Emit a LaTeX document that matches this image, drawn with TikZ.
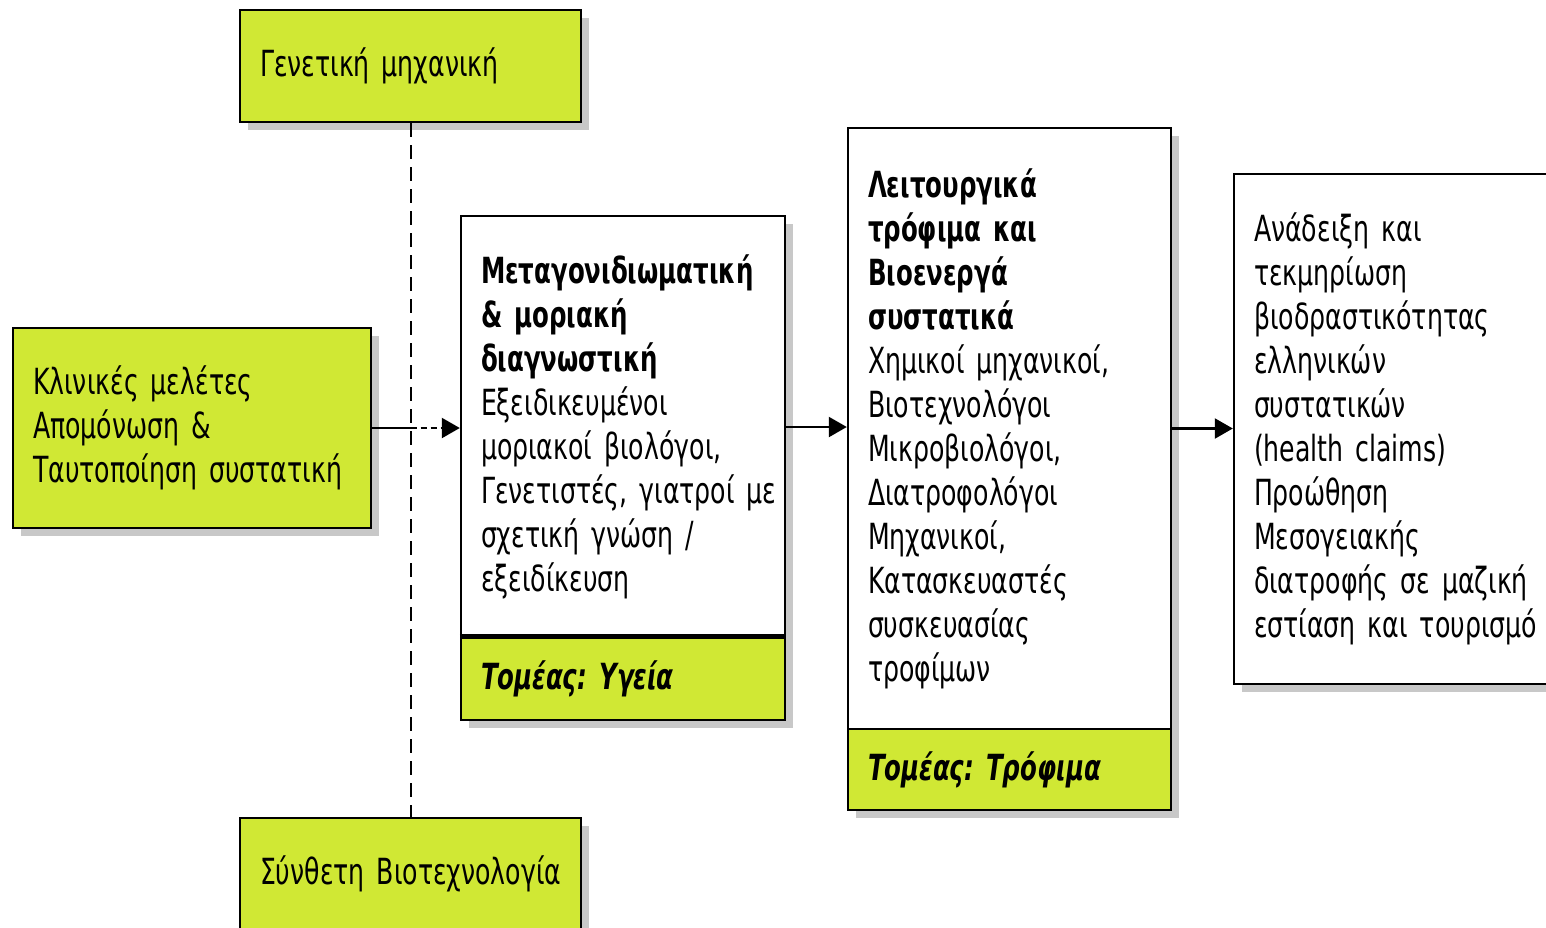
\documentclass[tikz,border=0pt]{standalone}
\usepackage{fontspec}
\setmainfont{DejaVu Sans}[FakeStretch=0.7,
  BoldFeatures={FakeStretch=0.68},BoldItalicFeatures={FakeStretch=0.68}]
\usetikzlibrary{arrows.meta,shadows}
\definecolor{lime}{RGB}{208,232,52}
\definecolor{shade}{RGB}{200,200,200}
\frenchspacing
\begin{document}
\begin{tikzpicture}[x=1pt,y=-1pt,
  box/.style={draw=black,line width=2.4pt,drop shadow={shadow xshift=8pt,shadow yshift=-8pt,opacity=1,fill=shade},
    inner xsep=20pt,inner ysep=0pt,align=left,font=\fontsize{36}{44}\selectfont},
  green/.style={box,fill=lime},
  white/.style={box,fill=white},
  link/.style={line width=2.2pt},
  tip/.style={-{Triangle[length=18pt,width=20pt]}}]
\useasboundingbox (0,0) rectangle (1546,927);

% side boxes
\node[green,text width=301pt,minimum height=112pt] (gen) at (410.5,66) {\mbox{Γενετική μηχανική}};
\node[green,text width=301pt,minimum height=112pt] (syn) at (410.5,874) {\mbox{Σύνθετη Βιοτεχνολογία}};
\node[green,text width=318pt,minimum height=200pt] (clin) at (192,428)
  {Κλινικές μελέτες\\Απομόνωση \&\\\mbox{Ταυτοποίηση συστατική}};

% diagnostics column
\node[white,text width=284pt,minimum height=422pt] (meta) at (623,427)
  {\textbf{Μεταγονιδιωματική}\\\textbf{\& μοριακή}\\\textbf{διαγνωστική}\\Εξειδικευμένοι\\μοριακοί βιολόγοι,\\\mbox{Γενετιστές, γιατροί με}\\σχετική γνώση /\\εξειδίκευση};
\node[green,text width=284pt,minimum height=82pt] (metaS) at (623,679)
  {\raisebox{-6pt}{\textbf{\textit{Τομέας: Υγεία}}}};
\draw[line width=5pt] (metaS.north west) -- (metaS.north east);

% food column
\node[white,text width=283pt,minimum height=601pt] (func) at (1009.5,428.5)
  {\textbf{Λειτουργικά}\\\textbf{τρόφιμα και}\\\textbf{Βιοενεργά}\\\textbf{συστατικά}\\\mbox{Χημικοί μηχανικοί,}\\Βιοτεχνολόγοι\\Μικροβιολόγοι,\\Διατροφολόγοι\\Μηχανικοί,\\Κατασκευαστές\\συσκευασίας\\τροφίμων};
\node[green,text width=283pt,minimum height=81pt] (funcS) at (1009.5,769.5)
  {\raisebox{-5pt}{\textbf{\textit{Τομέας: Τρόφιμα}}}};

% outcome box
\node[white,text width=284pt,minimum height=510pt] (out) at (1396,429)
  {Ανάδειξη και\\τεκμηρίωση\\βιοδραστικότητας\\ελληνικών\\συστατικών\\(health claims)\\Προώθηση\\Μεσογειακής\\\mbox{διατροφής σε μαζική}\\\mbox{εστίαση και τουρισμό}};

% connectors
\draw[line width=2pt,dash pattern=on 14pt off 8pt] (gen.south) -- (syn.north);
\coordinate (j) at (gen.south |- clin.east);
\draw[link] (clin.east) -- (j);
\draw[link,dash pattern=on 6pt off 4pt,tip] (j) -- (j -| meta.west);
\draw[link,tip] (meta.east) -- (meta.east -| func.west);
\draw[link,tip] (func.east) -- (func.east -| out.west);
\end{tikzpicture}
\end{document}
